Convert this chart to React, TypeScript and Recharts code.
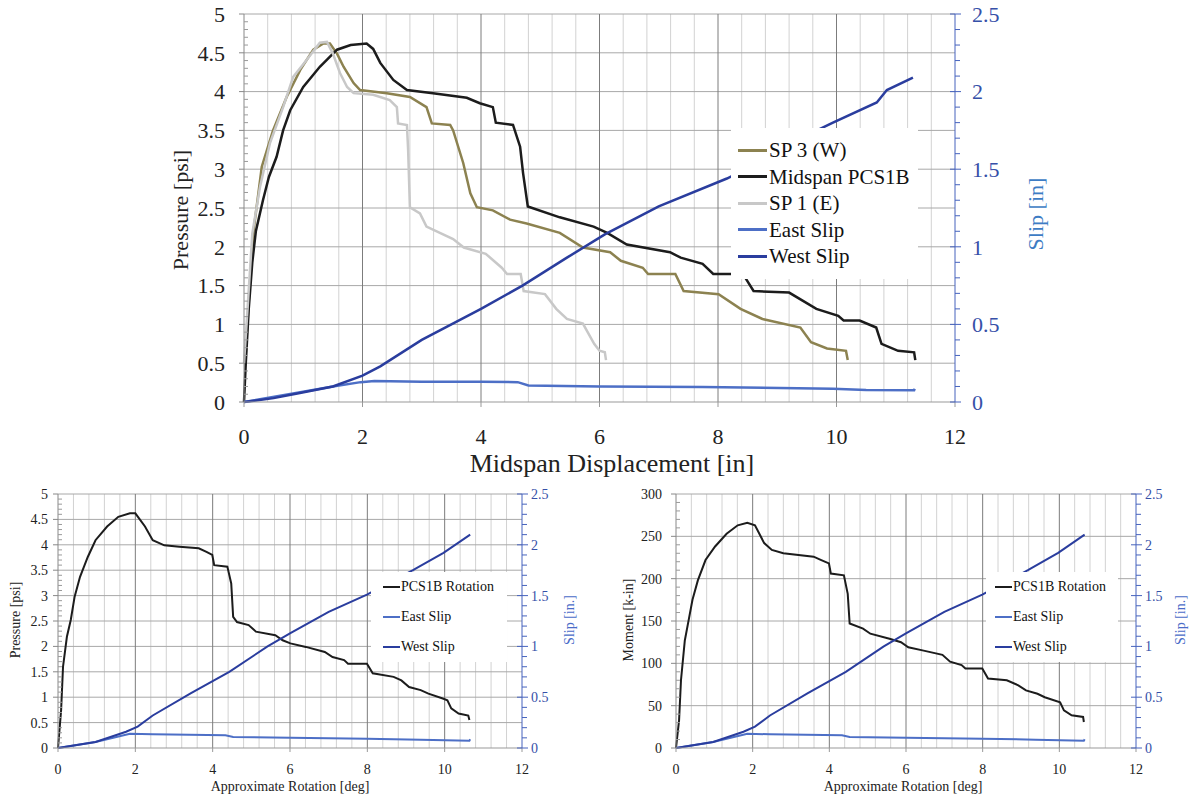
import React from "react";
import { LineChart, Line, XAxis, YAxis, CartesianGrid, Legend, Label } from "recharts";

const FONT = "'Liberation Serif', 'Times New Roman', Times, 'DejaVu Serif', serif";

// tick labels
const xTicks = [0, 2, 4, 6, 8, 10, 12];
const pressureTicks = [0, 0.5, 1, 1.5, 2, 2.5, 3, 3.5, 4, 4.5, 5];
const momentTicks = [0, 50, 100, 150, 200, 250, 300];
const slipTicks = [0, 0.5, 1, 1.5, 2, 2.5];

// top chart: pressure [psi] vs midspan displacement [in]
const sp3West: [number, number][] = [
  [0.02, 0.5], [0.08, 1.3], [0.16, 2.2], [0.3, 3.03], [0.49, 3.5], [0.72, 3.93], [0.95, 4.28],
  [1.17, 4.54], [1.34, 4.62], [1.45, 4.62], [1.57, 4.49], [1.68, 4.32], [1.85, 4.11], [1.96, 4.02],
  [2.41, 3.98], [2.8, 3.93], [3.08, 3.8], [3.17, 3.59], [3.48, 3.57], [3.53, 3.5], [3.7, 3.08],
  [3.82, 2.69], [3.93, 2.51], [4.2, 2.47], [4.49, 2.35], [4.77, 2.3], [5.33, 2.18], [5.72, 1.99],
  [6.18, 1.93], [6.36, 1.82], [6.73, 1.73], [6.82, 1.65], [7.28, 1.65], [7.42, 1.43], [8.01, 1.39],
  [8.38, 1.2], [8.75, 1.07], [9.39, 0.96], [9.57, 0.77], [9.84, 0.69], [10.16, 0.66], [10.19, 0.54],
];
const midspanPCS1B: [number, number][] = [
  [0, 0], [0.03, 0.5], [0.08, 1.2], [0.14, 1.8], [0.2, 2.2], [0.32, 2.6], [0.42, 2.9], [0.55, 3.16],
  [0.66, 3.5], [0.78, 3.76], [1.0, 4.06], [1.28, 4.32], [1.57, 4.54], [1.8, 4.6], [2.07, 4.62],
  [2.18, 4.55], [2.3, 4.37], [2.52, 4.15], [2.75, 4.02], [3.19, 3.98], [3.76, 3.92], [3.98, 3.85],
  [4.2, 3.8], [4.25, 3.6], [4.54, 3.57], [4.66, 3.29], [4.71, 2.95], [4.79, 2.52], [5.33, 2.38],
  [5.9, 2.26], [6.13, 2.18], [6.46, 2.03], [7.19, 1.93], [7.37, 1.86], [7.74, 1.78], [7.92, 1.65],
  [8.42, 1.65], [8.6, 1.43], [9.2, 1.41], [9.66, 1.2], [10.03, 1.11], [10.12, 1.05], [10.39, 1.05],
  [10.67, 0.96], [10.76, 0.75], [11.04, 0.66], [11.31, 0.64], [11.33, 0.54],
];
const sp1East: [number, number][] = [
  [0, 0.5], [0.06, 1.2], [0.14, 2.17], [0.27, 2.77], [0.44, 3.34], [0.66, 3.8], [0.83, 4.19],
  [1.06, 4.41], [1.28, 4.63], [1.4, 4.64], [1.5, 4.49], [1.62, 4.24], [1.74, 4.06], [1.85, 3.98],
  [2.18, 3.96], [2.46, 3.89], [2.58, 3.8], [2.6, 3.59], [2.75, 3.57], [2.77, 3.25], [2.8, 2.51],
  [2.97, 2.43], [3.08, 2.26], [3.53, 2.1], [3.71, 1.99], [4.08, 1.91], [4.35, 1.73], [4.44, 1.65],
  [4.67, 1.65], [4.72, 1.43], [5.08, 1.39], [5.27, 1.2], [5.45, 1.07], [5.72, 1.01], [5.91, 0.75],
  [6.0, 0.66], [6.09, 0.64], [6.11, 0.54],
];
// slip [in] vs midspan displacement [in]
const eastSlipDisp: [number, number][] = [
  [0, 0], [0.9, 0.06], [1.5, 0.1], [1.97, 0.128], [2.2, 0.135], [3, 0.13], [4, 0.13], [4.62, 0.128],
  [4.8, 0.107], [6, 0.1], [7.74, 0.096], [9.94, 0.086], [10.5, 0.078], [11.31, 0.075], [11.32, 0.085],
];
const westSlipDisp: [number, number][] = [
  [0, 0], [0.5, 0.025], [0.9, 0.055], [1.5, 0.1], [2.0, 0.17], [2.3, 0.23], [3, 0.4], [4, 0.6],
  [4.7, 0.75], [5.45, 0.93], [6.09, 1.08], [7, 1.26], [8.15, 1.44], [9, 1.6], [9.67, 1.75],
  [9.94, 1.8], [10.68, 1.93], [10.85, 2.01], [11.29, 2.09],
];

// bottom charts: vs approximate rotation [deg]
const rotationPressure: [number, number][] = [
  [0, 0], [0.08, 0.74], [0.13, 1.6], [0.23, 2.19], [0.33, 2.52], [0.43, 2.98], [0.57, 3.37],
  [0.77, 3.76], [0.97, 4.09], [1.27, 4.36], [1.56, 4.55], [1.86, 4.62], [2.0, 4.62], [2.25, 4.36],
  [2.45, 4.09], [2.75, 3.99], [3.14, 3.96], [3.64, 3.93], [3.84, 3.86], [3.99, 3.8], [4.04, 3.6],
  [4.38, 3.57], [4.48, 3.24], [4.53, 2.58], [4.63, 2.48], [4.93, 2.42], [5.12, 2.29], [5.62, 2.22],
  [5.81, 2.12], [6.01, 2.06], [6.41, 1.99], [6.9, 1.89], [7.1, 1.79], [7.4, 1.73], [7.5, 1.66],
  [7.99, 1.66], [8.14, 1.47], [8.68, 1.4], [8.88, 1.33], [9.08, 1.2], [9.38, 1.14], [9.58, 1.07],
  [9.97, 0.97], [10.07, 0.94], [10.17, 0.78], [10.36, 0.68], [10.61, 0.64], [10.64, 0.55],
];
const rotationMoment: [number, number][] = [
  [0, 0], [0.08, 32.7], [0.13, 80], [0.23, 127], [0.33, 151], [0.43, 175], [0.57, 198], [0.77, 222],
  [1.02, 238], [1.32, 253], [1.61, 263], [1.86, 266], [2.06, 263], [2.3, 242], [2.5, 234], [2.8, 230],
  [3.59, 226], [3.79, 222], [3.99, 218], [4.04, 206], [4.38, 204], [4.48, 182], [4.53, 147],
  [4.88, 141], [5.07, 135], [5.57, 129], [5.87, 125], [6.06, 119], [6.46, 115], [6.95, 110],
  [7.15, 102], [7.45, 98], [7.55, 94], [7.99, 94], [8.14, 82], [8.63, 80], [8.93, 74], [9.13, 68],
  [9.43, 64], [9.62, 60], [10.02, 54], [10.12, 44.5], [10.32, 38.6], [10.62, 36.7], [10.64, 30.7],
];
const eastSlipRot: [number, number][] = [
  [0, 0], [0.97, 0.06], [1.86, 0.14], [2.45, 0.135], [4.33, 0.125], [4.53, 0.108], [6.01, 0.1],
  [7.99, 0.092], [9.38, 0.082], [10.64, 0.072], [10.66, 0.085],
];
const westSlipRot: [number, number][] = [
  [0, 0], [0.97, 0.06], [1.76, 0.16], [2.06, 0.21], [2.45, 0.32], [3.44, 0.54], [4.43, 0.75],
  [5.42, 1.0], [6.01, 1.13], [7.0, 1.34], [7.99, 1.51], [9.18, 1.75], [9.97, 1.92], [10.66, 2.1],
];

const OLIVE = "#8c8250";
const BLACK = "#1c1c1c";
const LIGHT = "#c8c8c8";
const EAST = "#4d6fc6";
const WEST = "#2a3d9e";
const AXIS_BLUE = "#4663bd";

const pts = (a: [number, number][]) => a.map(([x, y]) => ({ x, y }));
const steps = (max: number, step: number) =>
  Array.from({ length: Math.round(max / step) + 1 }, (_, i) => +(i * step).toFixed(4));
const isIn = (list: number[], v: number) => list.some((m) => Math.abs(m - v) < 1e-6);

const gridMinor = steps(12, 0.4).filter((v) => v > 0 && v < 12 && !isIn(xTicks, v));
const gridMajor = xTicks.filter((v) => v > 0 && v < 12);

function LeftTick(props: any) {
  const { x, y, payload, major, gap, fontSize } = props;
  const v = payload.value;
  if (!isIn(major, v)) {
    return <line x1={x} x2={x + 4} y1={y} y2={y} stroke="#9a9a9a" />;
  }
  return (
    <g>
      <line x1={x - 5} x2={x} y1={y} y2={y} stroke="#888" />
      <text x={x - gap} y={y} dy="0.35em" textAnchor="end" fontSize={fontSize} style={{ fontFamily: FONT }} fill="#222">
        {v}
      </text>
    </g>
  );
}

function RightTick(props: any) {
  const { x, y, payload, major, gap, fontSize } = props;
  const v = payload.value;
  if (!isIn(major, v)) {
    return <line x1={x} x2={x + 5} y1={y} y2={y} stroke={AXIS_BLUE} />;
  }
  return (
    <g>
      <line x1={x - 5} x2={x + 6} y1={y} y2={y} stroke={AXIS_BLUE} />
      <text x={x + gap} y={y} dy="0.35em" textAnchor="start" fontSize={fontSize} style={{ fontFamily: FONT }} fill="#3650a8">
        {v}
      </text>
    </g>
  );
}

const title = (text: string, x: number, y: number, size: number, color = "#222", rotate = false) => () => (
  <text
    x={x}
    y={y}
    textAnchor="middle"
    dominantBaseline="central"
    fontSize={size}
    style={{ fontFamily: FONT }}
    fill={color}
    transform={rotate ? `rotate(-90 ${x} ${y})` : undefined}
  >
    {text}
  </text>
);

type Entry = { label: string; color: string };

function LegendBox(p: {
  entries: Entry[]; width: number; rowH: number; padTop: number; lineX: number; lineW: number;
  textX: number; fontSize: number; strokeW: number;
}) {
  return (
    <div style={{ width: p.width, background: "#fff", paddingTop: p.padTop, paddingBottom: p.padTop, fontFamily: FONT, fontSize: p.fontSize, color: "#111" }}>
      {p.entries.map((e) => (
        <div key={e.label} style={{ height: p.rowH, position: "relative" }}>
          <span style={{ position: "absolute", left: p.lineX, top: p.rowH / 2 - p.strokeW / 2, width: p.lineW, height: p.strokeW, background: e.color }} />
          <span style={{ position: "absolute", left: p.textX, top: 0, lineHeight: p.rowH + "px", whiteSpace: "nowrap" }}>{e.label}</span>
        </div>
      ))}
    </div>
  );
}

function TopChart() {
  const entries = [
    { label: "SP 3 (W)", color: OLIVE },
    { label: "Midspan PCS1B", color: BLACK },
    { label: "SP 1 (E)", color: LIGHT },
    { label: "East Slip", color: EAST },
    { label: "West Slip", color: WEST },
  ];
  return (
    <LineChart width={1200} height={480} margin={{ top: 14, right: 165, bottom: 18, left: 164 }} style={{ fontFamily: FONT }}>
      <CartesianGrid yAxisId="left" verticalValues={gridMinor} horizontal={false} stroke="#d2d2d2" />
      <CartesianGrid yAxisId="left" vertical={false} horizontalValues={pressureTicks.slice(1)} stroke="#a8a8a8" />
      <CartesianGrid yAxisId="left" verticalValues={gridMajor} horizontal={false} stroke="#7c7c7c" />
      <XAxis
        dataKey="x"
        type="number"
        domain={[0, 12]}
        ticks={xTicks}
        interval={0}
        height={60}
        stroke="#999"
        tickSize={5}
        tickMargin={21}
        tick={{ fontSize: 22, fill: "#222", style: { fontFamily: FONT } }}
      >
        <Label content={title("Midspan Displacement [in]", 612, 463, 26)} />
      </XAxis>
      <YAxis
        yAxisId="left"
        type="number"
        domain={[0, 5]}
        ticks={steps(5, 0.1)}
        interval={0}
        width={80}
        stroke="#888"
        tickLine={false}
        tickSize={0}
        tickMargin={0}
        tick={(p: any) => <LeftTick {...p} major={pressureTicks} gap={19} fontSize={22} />}
      >
        <Label content={title("Pressure [psi]", 180, 210, 22, "#222", true)} />
      </YAxis>
      <YAxis
        yAxisId="right"
        orientation="right"
        type="number"
        domain={[0, 2.5]}
        ticks={steps(2.5, 0.1)}
        interval={0}
        width={80}
        stroke={AXIS_BLUE}
        tickLine={false}
        tickSize={0}
        tickMargin={0}
        tick={(p: any) => <RightTick {...p} major={slipTicks} gap={17} fontSize={22} />}
      >
        <Label content={title("Slip [in]", 1035, 214, 22, "#3d7cc4", true)} />
      </YAxis>
      <Line yAxisId="left" data={pts(sp3West)} dataKey="y" name="SP 3 (W)" stroke={OLIVE} strokeWidth={2.5} dot={false} isAnimationActive={false} />
      <Line yAxisId="left" data={pts(midspanPCS1B)} dataKey="y" name="Midspan PCS1B" stroke={BLACK} strokeWidth={2.5} dot={false} isAnimationActive={false} />
      <Line yAxisId="left" data={pts(sp1East)} dataKey="y" name="SP 1 (E)" stroke={LIGHT} strokeWidth={2.5} dot={false} isAnimationActive={false} />
      <Line yAxisId="right" data={pts(eastSlipDisp)} dataKey="y" name="East Slip" stroke={EAST} strokeWidth={2.5} dot={false} isAnimationActive={false} />
      <Line yAxisId="right" data={pts(westSlipDisp)} dataKey="y" name="West Slip" stroke={WEST} strokeWidth={2.5} dot={false} isAnimationActive={false} />
      <Legend
        layout="vertical"
        align="center"
        verticalAlign="middle"
        wrapperStyle={{ left: 731, top: 128, width: 187, height: 142 }}
        content={() => (
          <LegendBox entries={entries} width={187} rowH={26.5} padTop={9} lineX={7} lineW={29} textX={38} fontSize={21} strokeW={3} />
        )}
      />
    </LineChart>
  );
}

function RotationChart(props: {
  left: number; series: [number, number][]; leftTicks: number[]; leftMax: number; leftMinor: number;
  leftTitle: string; leftWidth: number; rightWidth: number; leftGap: number; leftTitleX: number;
  rightTitleX: number; xTitleX: number; legendLeft: number; legendW: number; lineX: number;
}) {
  const entries = [
    { label: "PCS1B Rotation", color: BLACK },
    { label: "East Slip", color: EAST },
    { label: "West Slip", color: WEST },
  ];
  return (
    <div style={{ position: "absolute", left: props.left, top: 480 }}>
      <LineChart width={600} height={321} margin={{ top: 14, right: 0, bottom: 13, left: 0 }} style={{ fontFamily: FONT }}>
        <CartesianGrid yAxisId="left" verticalValues={gridMinor} horizontal={false} stroke="#d2d2d2" />
        <CartesianGrid yAxisId="left" vertical={false} horizontalValues={props.leftTicks.slice(1)} stroke="#a8a8a8" />
        <CartesianGrid yAxisId="left" verticalValues={gridMajor} horizontal={false} stroke="#7c7c7c" />
        <XAxis
          dataKey="x"
          type="number"
          domain={[0, 12]}
          ticks={xTicks}
          interval={0}
          height={40}
          stroke="#999"
          tickSize={4}
          tickMargin={12}
          tick={{ fontSize: 14, fill: "#222", style: { fontFamily: FONT } }}
        >
          <Label content={title("Approximate Rotation [deg]", props.xTitleX, 306, 14)} />
        </XAxis>
        <YAxis
          yAxisId="left"
          type="number"
          domain={[0, props.leftMax]}
          ticks={steps(props.leftMax, props.leftMinor)}
          interval={0}
          width={props.leftWidth}
          stroke="#888"
          tickLine={false}
          tickSize={0}
          tickMargin={0}
          tick={(p: any) => <LeftTick {...p} major={props.leftTicks} gap={props.leftGap} fontSize={14} />}
        >
          <Label content={title(props.leftTitle, props.leftTitleX, 140, 14, "#222", true)} />
        </YAxis>
        <YAxis
          yAxisId="right"
          orientation="right"
          type="number"
          domain={[0, 2.5]}
          ticks={steps(2.5, 0.1)}
          interval={0}
          width={props.rightWidth}
          stroke={AXIS_BLUE}
          tickLine={false}
          tickSize={0}
          tickMargin={0}
          tick={(p: any) => <RightTick {...p} major={slipTicks} gap={9} fontSize={14} />}
        >
          <Label content={title("Slip [in.]", props.rightTitleX, 140, 14, "#4a6cc8", true)} />
        </YAxis>
        <Line yAxisId="left" data={pts(props.series)} dataKey="y" name="PCS1B Rotation" stroke={BLACK} strokeWidth={2} dot={false} isAnimationActive={false} />
        <Line yAxisId="right" data={pts(eastSlipRot)} dataKey="y" name="East Slip" stroke={EAST} strokeWidth={2} dot={false} isAnimationActive={false} />
        <Line yAxisId="right" data={pts(westSlipRot)} dataKey="y" name="West Slip" stroke={WEST} strokeWidth={2} dot={false} isAnimationActive={false} />
        <Legend
          layout="vertical"
          align="center"
          verticalAlign="middle"
          wrapperStyle={{ left: props.legendLeft, top: 92, width: props.legendW, height: 90 }}
          content={() => (
            <LegendBox entries={entries} width={props.legendW} rowH={30} padTop={0} lineX={props.lineX} lineW={17} textX={props.lineX + 18} fontSize={14} strokeW={2.5} />
          )}
        />
      </LineChart>
    </div>
  );
}

export default function App() {
  return (
    <div style={{ position: "absolute", left: 0, top: 0, width: 1200, height: 801, background: "#fff", overflow: "hidden", fontFamily: FONT }}>
      <div style={{ position: "absolute", left: 0, top: 0 }}>
        <TopChart />
      </div>
      <RotationChart
        left={0}
        series={rotationPressure}
        leftTicks={pressureTicks}
        leftMax={5}
        leftMinor={0.1}
        leftTitle="Pressure [psi]"
        leftWidth={58}
        rightWidth={78}
        leftGap={10}
        leftTitleX={15}
        rightTitleX={569}
        xTitleX={290}
        legendLeft={371}
        legendW={136}
        lineX={12}
      />
      <RotationChart
        left={600}
        series={rotationMoment}
        leftTicks={momentTicks}
        leftMax={300}
        leftMinor={10}
        leftTitle="Moment [k-in]"
        leftWidth={76}
        rightWidth={64}
        leftGap={14}
        leftTitleX={28}
        rightTitleX={580}
        xTitleX={303}
        legendLeft={386}
        legendW={132}
        lineX={9}
      />
    </div>
  );
}
